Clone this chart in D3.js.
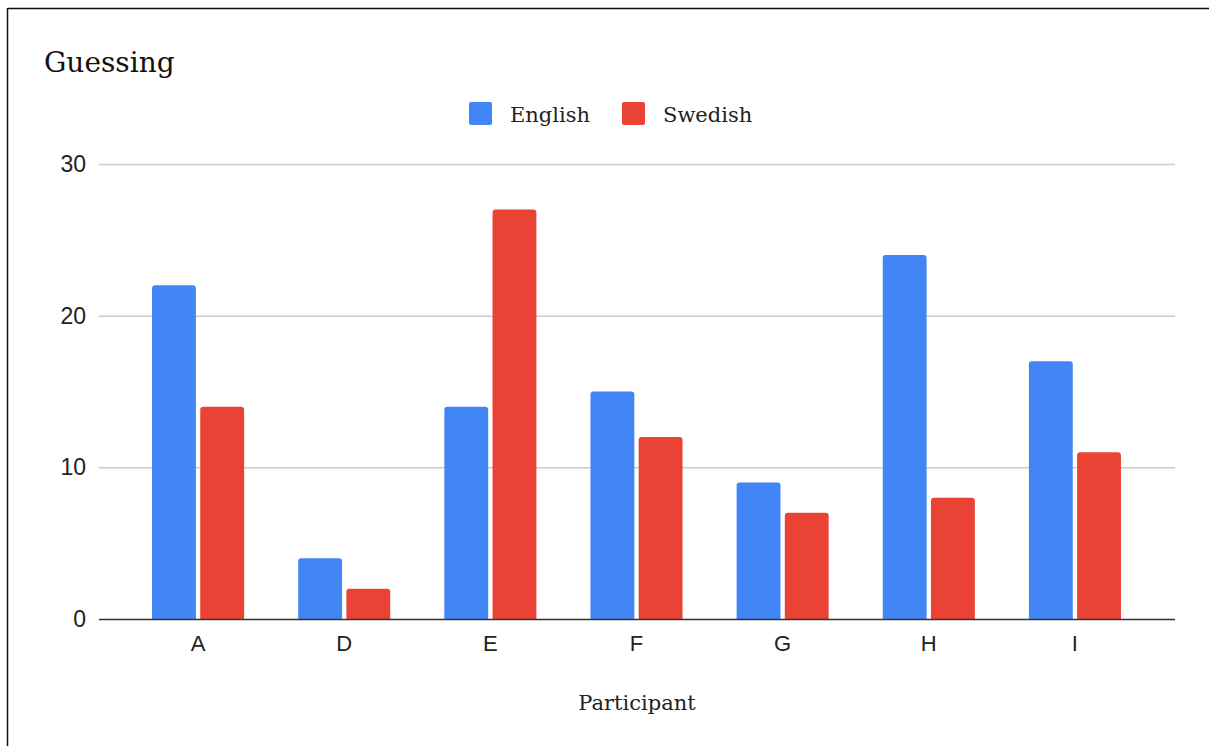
<!DOCTYPE html>
<html>
<head>
<meta charset="utf-8">
<script src="https://cdn.jsdelivr.net/npm/d3@7"></script>
<style>
  html, body { margin: 0; padding: 0; background: #fff; }
  svg { display: block; }
</style>
</head>
<body>
<svg id="chart" width="1209" height="746"></svg>
<script>
// Participants and their guess counts per language
const participants = ["A", "D", "E", "F", "G", "H", "I"];
const english = [22, 4, 14, 15, 9, 24, 17];
const swedish = [14, 2, 27, 12, 7, 8, 11];
const seriesNames = ["English", "Swedish"];
const seriesColors = ["#4285F4", "#EA4335"];
const yTicks = [0, 10, 20, 30];

const svg = d3.select("#chart");
const serif = "'DejaVu Serif', Georgia, serif";
const sans = "'Liberation Sans', Arial, sans-serif";

// outer frame (top and left edges)
svg.append("line").attr("x1", 7.5).attr("x2", 1209).attr("y1", 8.5).attr("y2", 8.5)
  .attr("stroke", "#111").attr("stroke-width", 1.5);
svg.append("line").attr("x1", 7.5).attr("x2", 7.5).attr("y1", 8).attr("y2", 746)
  .attr("stroke", "#111").attr("stroke-width", 1.5);

const plotLeft = 99, plotRight = 1175;
const y = d3.scaleLinear().domain([0, 30]).range([619, 164]);
const x = d3.scaleBand().domain(participants).range([125, 1148])
  .paddingInner(0.37).paddingOuter(0.185);
const xs = d3.scaleBand().domain(seriesNames).range([0, x.bandwidth()]).paddingInner(0.09);

// title
svg.append("text").attr("x", 44).attr("y", 72)
  .attr("font-family", serif).attr("font-size", 28).attr("fill", "#111")
  .text("Guessing");

// gridlines and y labels
const yAxis = d3.axisLeft(y).tickValues(yTicks).tickSize(-(plotRight - plotLeft)).tickPadding(13);
const gy = svg.append("g").attr("transform", `translate(${plotLeft},0)`).call(yAxis);
gy.select(".domain").remove();
gy.selectAll(".tick line").attr("stroke", "#cccccc").attr("stroke-width", 1.5)
  .attr("display", d => d === 0 ? "none" : null);
gy.selectAll(".tick text").attr("font-family", sans).attr("font-size", 23).attr("fill", "#222");

// bars with rounded tops
const rows = participants.map((p, i) => ({ p, vals: [english[i], swedish[i]] }));
function barPath(x0, w, top, bottom, r) {
  r = Math.min(r, (bottom - top), w / 2);
  return `M${x0},${bottom}V${top + r}Q${x0},${top} ${x0 + r},${top}H${x0 + w - r}Q${x0 + w},${top} ${x0 + w},${top + r}V${bottom}Z`;
}
const groups = svg.append("g").selectAll("g").data(rows).join("g")
  .attr("transform", d => `translate(${x(d.p)},0)`);
groups.selectAll("path").data(d => d.vals.map((v, k) => ({ v, k }))).join("path")
  .attr("d", d => barPath(xs(seriesNames[d.k]), xs.bandwidth(), y(d.v), y(0), 3))
  .attr("fill", d => seriesColors[d.k]);

// baseline and category axis
const xAxis = d3.axisBottom(x).tickSize(0).tickPadding(16);
const gx = svg.append("g").attr("transform", `translate(0,${y(0)})`).call(xAxis);
gx.select(".domain").remove();
gx.selectAll(".tick text").attr("font-family", sans).attr("font-size", 22).attr("fill", "#222");
svg.append("line").attr("x1", plotLeft).attr("x2", plotRight).attr("y1", y(0) + 0.5).attr("y2", y(0) + 0.5)
  .attr("stroke", "#333").attr("stroke-width", 1.6);

// x-axis title
svg.append("text").attr("x", 637).attr("y", 710).attr("text-anchor", "middle")
  .attr("font-family", serif).attr("font-size", 21).attr("fill", "#222")
  .text("Participant");

// legend
const legendItems = [{ name: seriesNames[0], x: 469 }, { name: seriesNames[1], x: 622 }];
const lg = svg.append("g").selectAll("g").data(legendItems).join("g")
  .attr("transform", d => `translate(${d.x},102)`);
lg.append("rect").attr("width", 23).attr("height", 23).attr("rx", 2)
  .attr("fill", (d, i) => seriesColors[i]);
lg.append("text").attr("x", 41).attr("y", 20)
  .attr("font-family", serif).attr("font-size", 21).attr("fill", "#222")
  .text(d => d.name);
</script>
</body>
</html>
